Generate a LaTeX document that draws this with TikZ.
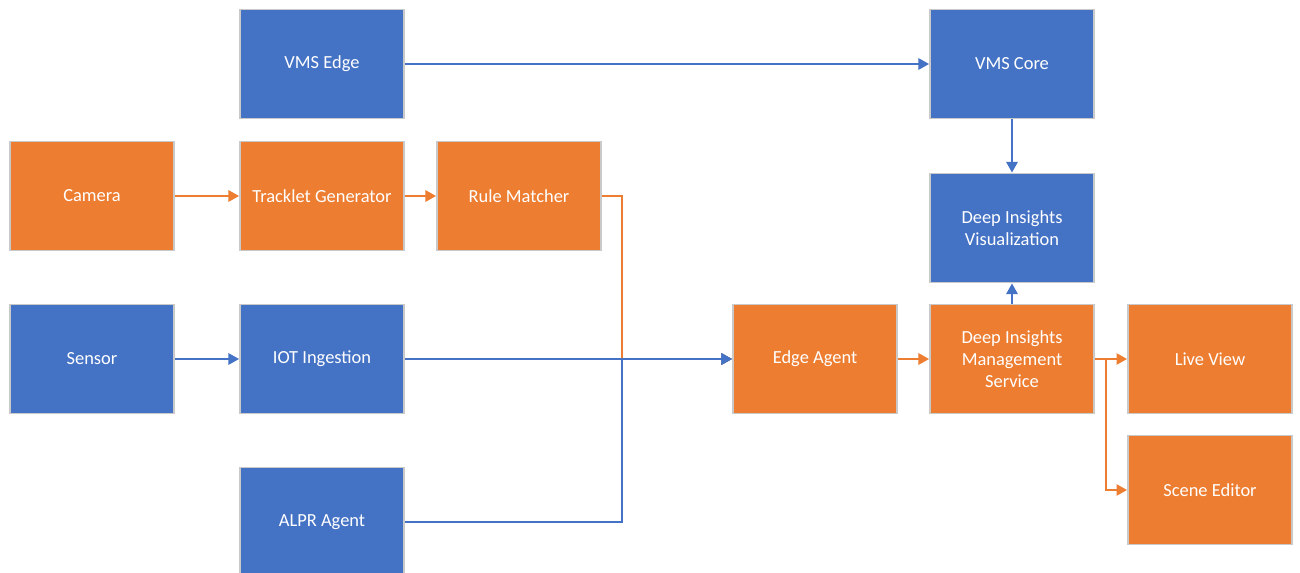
\documentclass[tikz,border=0pt]{standalone}
\usepackage{fontspec}
\setmainfont{Carlito}
\usetikzlibrary{arrows.meta}
\definecolor{boxorange}{HTML}{ED7D31}
\definecolor{boxblue}{HTML}{4472C4}
\definecolor{boxrim}{HTML}{C9C9C9}
\begin{document}
\begin{tikzpicture}[
    x = 1cm, y = 1cm,
   box/.style = {draw=boxrim, line width=1.1pt, minimum width=3.28cm, minimum height=2.18cm,
                 inner sep=2pt, align=center, text=white, font=\fontsize{10.5}{12.4}\selectfont},
    ob/.style = {box, fill=boxorange},
    bb/.style = {box, fill=boxblue},
   arr/.style = {line width=0.85pt, -{Triangle[length=6pt, width=6.5pt]}},
  oarr/.style = {arr, draw=boxorange},
  barr/.style = {arr, draw=boxblue}
                    ]
\useasboundingbox (0,0) rectangle (26,-11.46);
% top row
\node[bb] (vmsedge) at (6.44,-1.28) {VMS Edge};
\node[bb] (vmscore) at (20.24,-1.28) {VMS Core};
% camera row
\node[ob] (camera) at (1.84,-3.92) {Camera};
\node[ob] (tracklet) at (6.44,-3.92) {Tracklet Generator};
\node[ob] (rule) at (10.38,-3.92) {Rule Matcher};
\node[bb] (divis) at (20.24,-4.56) {Deep Insights\\Visualization};
% middle row
\node[bb] (sensor) at (1.84,-7.18) {Sensor};
\node[bb] (iot) at (6.44,-7.18) {IOT Ingestion};
\node[ob] (edge) at (16.30,-7.18) {Edge Agent};
\node[ob] (dims) at (20.24,-7.18) {Deep Insights\\Management\\Service};
\node[ob] (live) at (24.20,-7.18) {Live View};
% bottom
\node[ob] (scene) at (24.20,-9.80) {Scene Editor};
\node[bb] (alpr) at (6.44,-10.44) {ALPR Agent};

\coordinate (join) at (12.44,-7.18);
\coordinate (fork) at (22.12,-7.18);

\draw[barr] (vmsedge) -- (vmscore);
\draw[barr] (vmscore) -- (divis);
\draw[oarr] (camera) -- (tracklet);
\draw[oarr] (tracklet) -- (rule);
\draw[oarr] (rule.east) -| (join) -- (edge);
\draw[barr] (sensor) -- (iot);
\draw[barr] (iot) -- (edge);
\draw[barr] (alpr.east) -| (join) -- (edge);
\draw[oarr] (edge) -- (dims);
\draw[barr] (dims) -- (divis);
\draw[oarr] (dims) -- (live);
\draw[oarr] (fork) |- (scene);

\end{tikzpicture}
\end{document}
